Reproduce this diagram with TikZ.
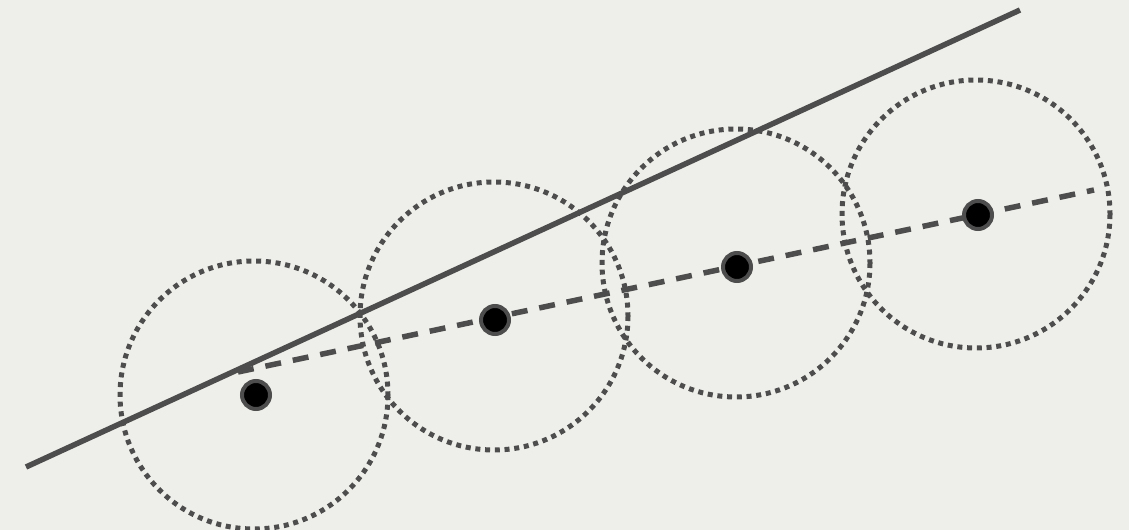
\documentclass[tikz,border=0pt]{standalone}
\usepackage{xcolor}
\definecolor{bggray}{HTML}{EEEEEA}
\definecolor{inkgray}{HTML}{4D4D4D}

\begin{document}
\begin{tikzpicture}[x=0.02cm, y=-0.02cm,
    centre/.style={circle, fill=black, draw=inkgray, line width=0.08cm, minimum size=0.56cm, inner sep=0pt},
    ball/.style={draw=inkgray, line width=0.1cm, dash pattern=on 0.1cm off 0.095cm},
    fitline/.style={draw=inkgray, line width=0.11cm},
    trend/.style={draw=inkgray, line width=0.11cm, dash pattern=on 0.32cm off 0.24cm}]
  % background
  \fill[bggray] (0,0) rectangle (1129,530);
  \useasboundingbox (0,0) rectangle (1129,530);
  % end points of the lines
  \coordinate (s0) at (26,467);
  \coordinate (s1) at (1020,10);
  \coordinate (d0) at (238,372);
  \coordinate (d1) at (1094,190);
  % dotted circles
  \draw[ball] (254,395) circle (134);
  \draw[ball] (494,316) circle (134);
  \draw[ball] (736,263) circle (134);
  \draw[ball] (976,214) circle (134);
  % lines
  \draw[trend] (d0) -- (d1);
  \draw[fitline] (s0) -- (s1);
  % centres
  \node[centre] (p1) at (256,395) {};
  \node[centre] (p2) at (495,320) {};
  \node[centre] (p3) at (737,267) {};
  \node[centre] (p4) at (978,215) {};
\end{tikzpicture}
\end{document}
